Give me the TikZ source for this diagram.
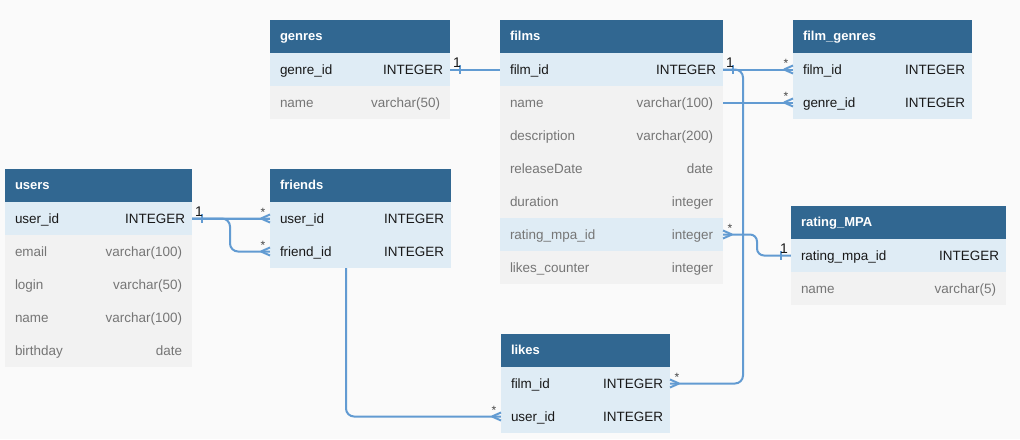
\documentclass[tikz,border=0pt]{standalone}
\usepackage{fontspec}
\setmainfont{Liberation Sans}
\usetikzlibrary{calc}

% one screen pixel
\newdimen\px \px=0.75pt

\definecolor{canvas}{RGB}{250,250,250}
\definecolor{headbg}{RGB}{49,103,145}
\definecolor{keybg}{RGB}{223,236,245}
\definecolor{rowbg}{RGB}{242,242,242}
\definecolor{ink}{RGB}{25,25,25}
\definecolor{dim}{RGB}{118,118,118}
\definecolor{link}{RGB}{98,155,210}

\pgfdeclarelayer{canvas}
\pgfdeclarelayer{edges}
\pgfsetlayers{canvas,edges,main}

% field line: name on the left, type on the right
\newcommand{\rowstrut}{\rule[-3\px]{0pt}{15\px}}
\newcommand{\kf}[2]{\rowstrut\hspace*{10\px}#1\hfill #2\hspace*{7\px}}
\newcommand{\fl}[2]{\rowstrut\hspace*{10\px}#1\hfill #2\hspace*{10\px}}
\newcommand{\hd}[1]{\rule[-3\px]{0pt}{13\px}\hspace*{10\px}#1}

\tikzset{
  cell/.style={rectangle, anchor=north west, inner sep=0pt, outer sep=0pt,
    minimum height=33\px},
  hdr/.style={cell, fill=headbg, text=white,
    font=\fontsize{9.75pt}{11pt}\selectfont\bfseries},
  keyrow/.style={cell, fill=keybg, text=ink, font=\fontsize{10.1pt}{12pt}\selectfont},
  fkrow/.style={cell, fill=keybg, text=dim, font=\fontsize{10.1pt}{12pt}\selectfont},
  row/.style={cell, fill=rowbg, text=dim, font=\fontsize{10.1pt}{12pt}\selectfont},
  conn/.style={draw=link, line width=2\px},
  onelbl/.style={inner sep=0pt, anchor=south, text=ink,
    font=\fontsize{10.5pt}{12pt}\selectfont},
  starlbl/.style={inner sep=0pt, anchor=base, text=ink!80,
    font=\fontsize{9pt}{10pt}\selectfont},
  % "exactly one" end: edge of the table at the origin, line leaving towards -x
  one/.pic={
    \draw[conn] (-10,-4.5) -- (-10,4.5);
    \node[onelbl] at (-7,-2) {1};
  },
  % "many" end (crow's foot): edge of the table at the origin, line coming from -x
  many/.pic={
    \draw[conn] (-9,0) -- (0,-4) (-9,0) -- (0,4);
    \node[starlbl] at (-7,-2) {*};
  },
}

\begin{document}
\begin{tikzpicture}[x=0.75pt, y=-0.75pt]

\begin{pgfonlayer}{canvas}
  \path[use as bounding box, fill=canvas] (0,0) rectangle (1020,439);
\end{pgfonlayer}

% ---------- genres ----------
\begin{scope}[nodes={text width=180\px}]
\node[hdr] (genres) at (270,20) {\hd{genres}};
\node[keyrow] (genres-genre_id) at (genres.south west) {\kf{genre\_id}{INTEGER}};
\node[row] (genres-name) at (genres-genre_id.south west) {\fl{name}{varchar(50)}};
\end{scope}

% ---------- films ----------
\begin{scope}[nodes={text width=223\px}]
\node[hdr] (films) at (500,20) {\hd{films}};
\node[keyrow] (films-film_id) at (films.south west) {\kf{film\_id}{INTEGER}};
\node[row] (films-name) at (films-film_id.south west) {\fl{name}{varchar(100)}};
\node[row] (films-description) at (films-name.south west) {\fl{description}{varchar(200)}};
\node[row] (films-releaseDate) at (films-description.south west) {\fl{releaseDate}{date}};
\node[row] (films-duration) at (films-releaseDate.south west) {\fl{duration}{integer}};
\node[fkrow] (films-rating_mpa_id) at (films-duration.south west) {\fl{rating\_mpa\_id}{integer}};
\node[row] (films-likes_counter) at (films-rating_mpa_id.south west) {\fl{likes\_counter}{integer}};
\end{scope}

% ---------- film_genres ----------
\begin{scope}[nodes={text width=179\px}]
\node[hdr] (film_genres) at (793,20) {\hd{film\_genres}};
\node[keyrow] (film_genres-film_id) at (film_genres.south west) {\kf{film\_id}{INTEGER}};
\node[keyrow] (film_genres-genre_id) at (film_genres-film_id.south west) {\kf{genre\_id}{INTEGER}};
\end{scope}

% ---------- users ----------
\begin{scope}[nodes={text width=187\px}]
\node[hdr] (users) at (5,169) {\hd{users}};
\node[keyrow] (users-user_id) at (users.south west) {\kf{user\_id}{INTEGER}};
\node[row] (users-email) at (users-user_id.south west) {\fl{email}{varchar(100)}};
\node[row] (users-login) at (users-email.south west) {\fl{login}{varchar(50)}};
\node[row] (users-name) at (users-login.south west) {\fl{name}{varchar(100)}};
\node[row] (users-birthday) at (users-name.south west) {\fl{birthday}{date}};
\end{scope}

% ---------- friends ----------
\begin{scope}[nodes={text width=181\px}]
\node[hdr] (friends) at (270,169) {\hd{friends}};
\node[keyrow] (friends-user_id) at (friends.south west) {\kf{user\_id}{INTEGER}};
\node[keyrow] (friends-friend_id) at (friends-user_id.south west) {\kf{friend\_id}{INTEGER}};
\end{scope}

% ---------- rating_MPA ----------
\begin{scope}[nodes={text width=215\px}]
\node[hdr] (rating_MPA) at (791,206) {\hd{rating\_MPA}};
\node[keyrow] (rating_MPA-rating_mpa_id) at (rating_MPA.south west) {\kf{rating\_mpa\_id}{INTEGER}};
\node[row] (rating_MPA-name) at (rating_MPA-rating_mpa_id.south west) {\fl{name}{varchar(5)}};
\end{scope}

% ---------- likes ----------
\begin{scope}[nodes={text width=169\px}]
\node[hdr] (likes) at (501,334) {\hd{likes}};
\node[keyrow] (likes-film_id) at (likes.south west) {\kf{film\_id}{INTEGER}};
\node[keyrow] (likes-user_id) at (likes-film_id.south west) {\kf{user\_id}{INTEGER}};
\end{scope}

% ---------- relations (drawn under the tables) ----------
\begin{pgfonlayer}{edges}
  \draw[conn] (genres-genre_id.east) -| (films-name.center) -- (film_genres-genre_id.west);
  \draw[conn] (films-film_id.east) -- (film_genres-film_id.west);
  \draw[conn, rounded corners=8\px] (films-film_id.east)
    -- ($(films-film_id.east)+(20,0)$) |- (likes-film_id.east);
  \draw[conn, rounded corners=7\px] (films-rating_mpa_id.east)
    -| ($(rating_MPA-rating_mpa_id.west)+(-34,0)$) -- (rating_MPA-rating_mpa_id.west);
  \draw[conn] (users-user_id.east) -- (friends-user_id.west);
  \draw[conn, rounded corners=8\px] (users-user_id.east)
    -| ($(friends-friend_id.west)+(-40,0)$) -- (friends-friend_id.west);
  \draw[conn, rounded corners=8\px] (users-user_id.east)
    -| ($(likes-user_id.west)+(-155,0)$) -- (likes-user_id.west);
\end{pgfonlayer}

% ---------- cardinality marks ----------
\pic[xscale=-1] at (genres-genre_id.east) {one};
\pic[xscale=-1] at (films-film_id.east) {one};
\pic[xscale=-1] at (users-user_id.east) {one};
\pic at (rating_MPA-rating_mpa_id.west) {one};

\pic at (film_genres-film_id.west) {many};
\pic at (film_genres-genre_id.west) {many};
\pic at (friends-user_id.west) {many};
\pic at (friends-friend_id.west) {many};
\pic at (likes-user_id.west) {many};
\pic[xscale=-1] at (likes-film_id.east) {many};
\pic[xscale=-1] at (films-rating_mpa_id.east) {many};

\end{tikzpicture}
\end{document}
